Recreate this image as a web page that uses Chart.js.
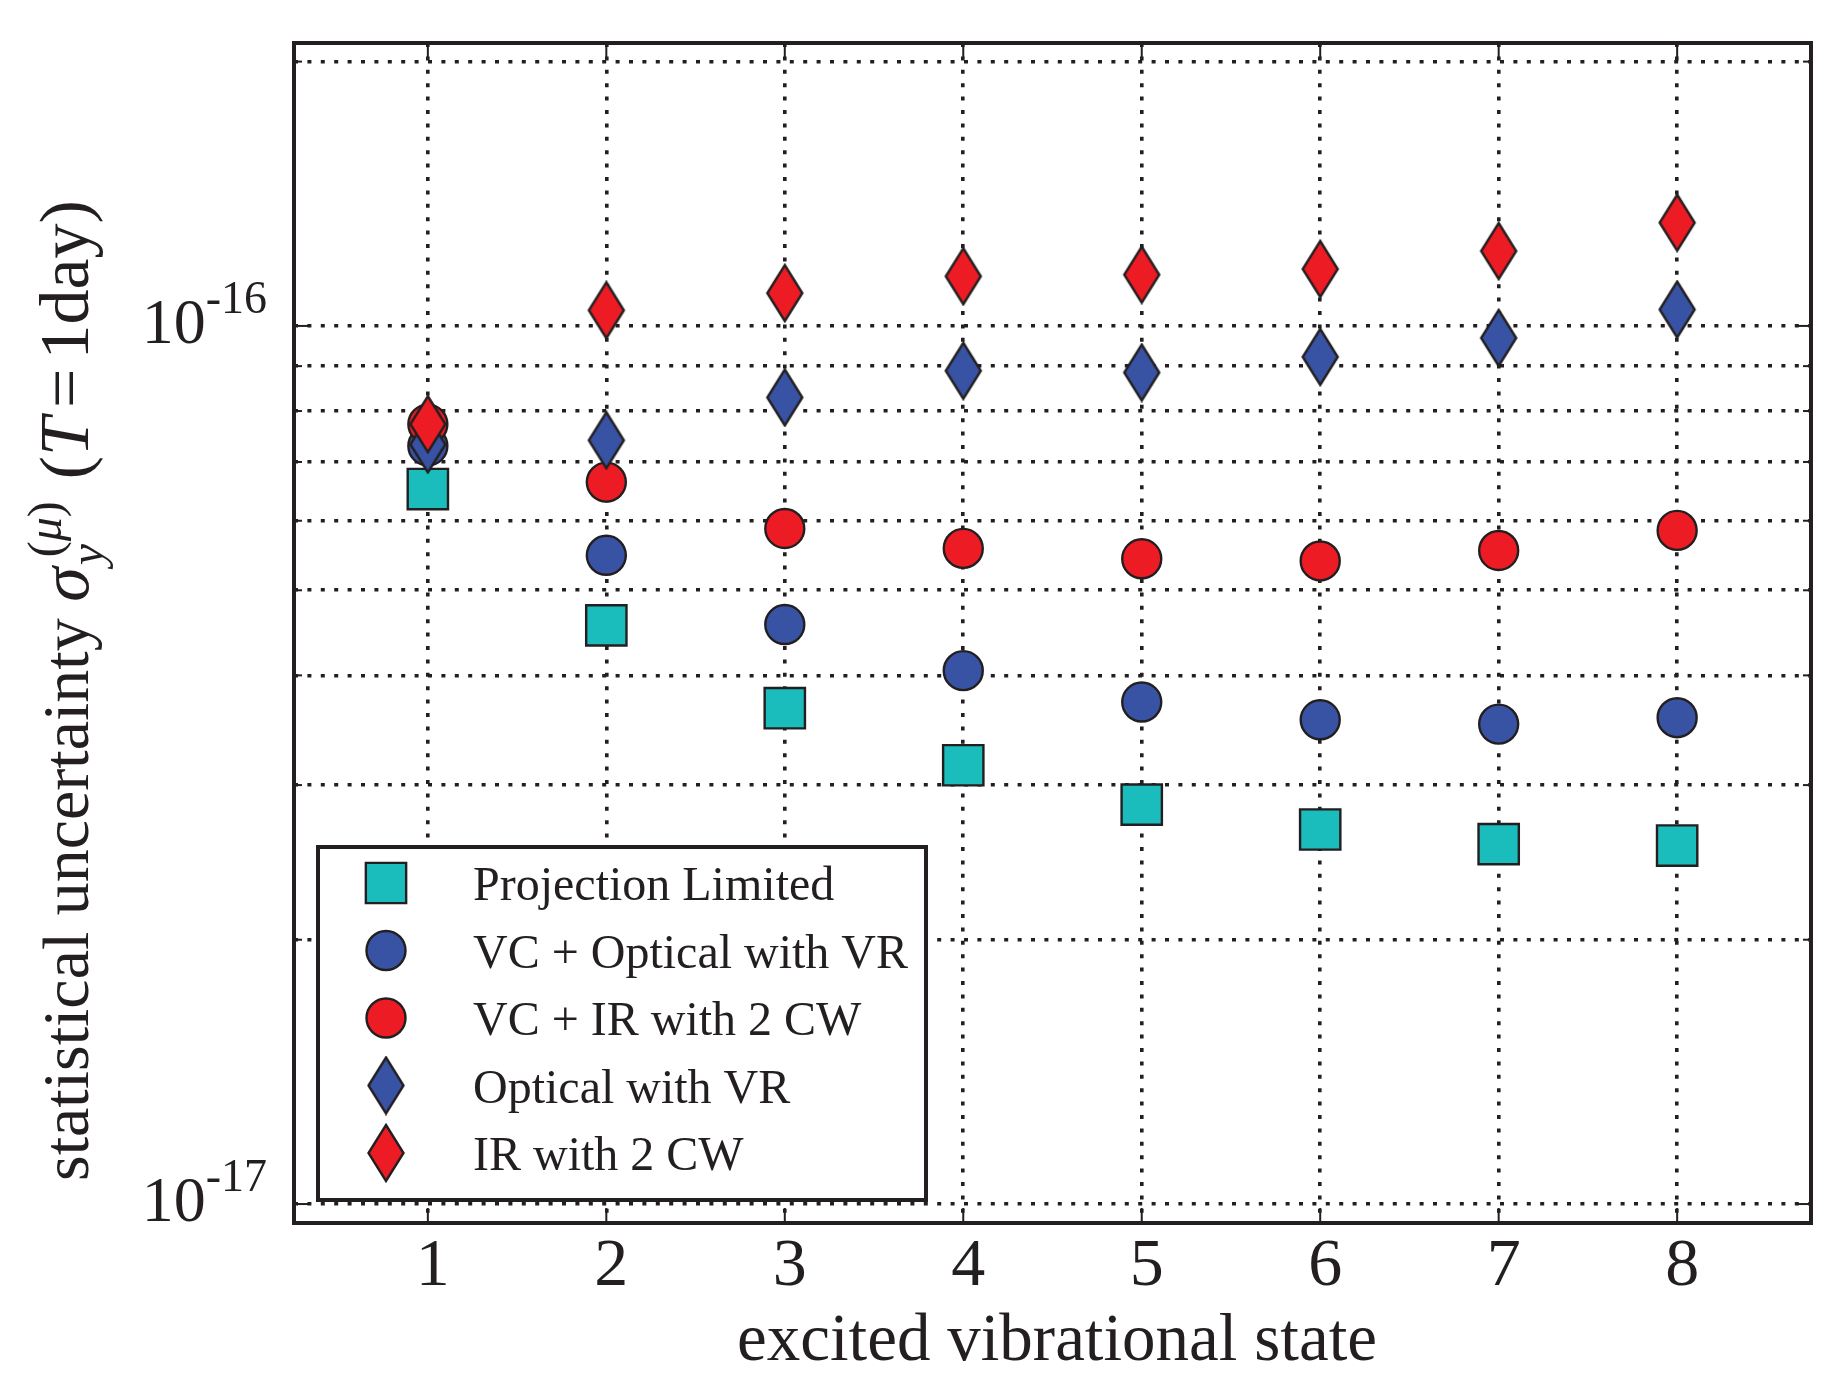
<!DOCTYPE html>
<html>
<head>
<meta charset="utf-8">
<script src="https://cdn.jsdelivr.net/npm/chart.js@4.4.1/dist/chart.umd.min.js"></script>
<style>
html, body { margin: 0; padding: 0; background: #fff; }
canvas { display: block; }
</style>
</head>
<body>
<canvas id="chart" width="1846" height="1388"></canvas>
<script>
// data
const states = [1, 2, 3, 4, 5, 6, 7, 8];
const projectionLimited = [6.52e-17, 4.56e-17, 3.67e-17, 3.16e-17, 2.85e-17, 2.67e-17, 2.57e-17, 2.56e-17];
const vcOpticalVR = [7.30e-17, 5.48e-17, 4.57e-17, 4.05e-17, 3.73e-17, 3.56e-17, 3.52e-17, 3.58e-17];
const vcIR2CW = [7.73e-17, 6.64e-17, 5.88e-17, 5.58e-17, 5.43e-17, 5.40e-17, 5.55e-17, 5.85e-17];
const opticalVR = [7.33e-17, 7.41e-17, 8.29e-17, 8.89e-17, 8.85e-17, 9.22e-17, 9.69e-17, 1.044e-16];
const ir2CW = [7.73e-17, 1.042e-16, 1.090e-16, 1.139e-16, 1.144e-16, 1.161e-16, 1.217e-16, 1.311e-16];

const seriesLabels = ['Projection Limited', 'VC + Optical with VR', 'VC + IR with 2 CW', 'Optical with VR', 'IR with 2 CW'];
const xTickLabels = ['1', '2', '3', '4', '5', '6', '7', '8'];
const yGridValues = [1e-17, 2e-17, 3e-17, 4e-17, 5e-17, 6e-17, 7e-17, 8e-17, 9e-17, 1e-16, 2e-16];
const yMajorValues = [1e-17, 1e-16];
const yTickExponents = ['-17', '-16'];
const xAxisTitle = 'excited vibrational state';

const ink = '#231f20';
const teal = '#1bbcbc';
const blue = '#3953a4';
const red = '#ed1c24';
const SERIF = '"Liberation Serif", "Times New Roman", serif';

// matplotlib style thin diamond marker
function thinDiamond(fill) {
    const c = document.createElement('canvas');
    c.width = 40; c.height = 60;
    const g = c.getContext('2d');
    g.beginPath();
    g.moveTo(20, 2); g.lineTo(37.5, 30); g.lineTo(20, 58); g.lineTo(2.5, 30);
    g.closePath();
    g.fillStyle = fill; g.fill();
    g.lineWidth = 2.4; g.strokeStyle = ink; g.stroke();
    return c;
}

const toPoints = (vals) => states.map((s, i) => ({ x: s, y: vals[i] }));

function series(label, vals, color, style, radius, order) {
    return {
        label: label,
        data: toPoints(vals),
        backgroundColor: color,
        borderColor: ink,
        borderWidth: 2.4,
        pointStyle: style,
        pointRadius: radius,
        pointHoverRadius: radius,
        showLine: false,
        order: order
    };
}

const datasets = [
    series(seriesLabels[0], projectionLimited, teal, 'rect', 28.5, 5),
    series(seriesLabels[1], vcOpticalVR, blue, 'circle', 19.5, 4),
    series(seriesLabels[2], vcIR2CW, red, 'circle', 19.5, 3),
    series(seriesLabels[3], opticalVR, blue, thinDiamond(blue), 18, 2),
    series(seriesLabels[4], ir2CW, red, thinDiamond(red), 18, 1)
];

// draw a sequence of text runs along +x, returns advance
function drawSeq(ctx, seq, x0) {
    let cx = x0;
    seq.forEach(r => {
        if (r.gap) { cx += r.gap; return; }
        if (r.stack) {
            let w = 0;
            r.stack.forEach(s => { w = Math.max(w, drawSeq(ctx, s, cx) - cx); });
            cx += w;
            return;
        }
        ctx.font = r.font;
        ctx.fillText(r.text, cx, r.dy || 0);
        cx += ctx.measureText(r.text).width;
    });
    return cx;
}

const R66 = '66px ' + SERIF;
const R70 = '70px ' + SERIF, I70 = 'italic 70px ' + SERIF;
const R48 = '48px ' + SERIF, I48 = 'italic 48px ' + SERIF;
const yAxisTitle = [
    { text: 'statistical uncertainty ', font: R66 },
    { text: 'σ', font: I70 },
    { stack: [
        [{ gap: 2 }, { text: 'y', font: I48, dy: 15 }],
        [{ gap: 10 }, { text: '(', font: R48, dy: -27 }, { text: 'μ', font: I48, dy: -27 }, { text: ')', font: R48, dy: -27 }]
    ] },
    { gap: 22 },
    { text: '(', font: R70 },
    { text: 'T', font: I70 },
    { gap: 9 },
    { text: '=', font: R70 },
    { gap: 9 },
    { text: '1day)', font: R70 }
];

const decorations = {
    id: 'decorations',
    beforeDraw(chart) {
        const ctx = chart.ctx;
        ctx.save();
        ctx.fillStyle = '#fff';
        ctx.fillRect(0, 0, chart.width, chart.height);
        ctx.restore();
    },
    afterDraw(chart) {
        const { ctx, chartArea: a, scales: { x, y } } = chart;
        ctx.save();
        ctx.strokeStyle = ink;
        ctx.fillStyle = ink;
        const line = (x1, y1, x2, y2) => { ctx.beginPath(); ctx.moveTo(x1, y1); ctx.lineTo(x2, y2); ctx.stroke(); };

        // inward ticks
        ctx.lineWidth = 2;
        states.forEach(v => {
            const px = x.getPixelForValue(v);
            line(px, a.bottom, px, a.bottom - 15);
            line(px, a.top, px, a.top + 15);
        });
        yGridValues.forEach(v => {
            const py = y.getPixelForValue(v);
            const len = yMajorValues.includes(v) ? 15 : 8;
            line(a.left, py, a.left + len, py);
            line(a.right, py, a.right - len, py);
        });

        // frame
        ctx.lineWidth = 4;
        ctx.strokeRect(a.left, a.top, a.right - a.left, a.bottom - a.top);

        // x tick labels
        ctx.textAlign = 'center';
        ctx.textBaseline = 'alphabetic';
        ctx.font = '68px ' + SERIF;
        states.forEach((v, i) => ctx.fillText(xTickLabels[i], x.getPixelForValue(v) + 5, a.bottom + 62));

        // x title
        ctx.font = '67px ' + SERIF;
        ctx.fillText(xAxisTitle, 1057, 1360);

        // y tick labels 10^n
        ctx.textAlign = 'left';
        yMajorValues.forEach((v, i) => {
            const py = y.getPixelForValue(v);
            ctx.font = '46px ' + SERIF;
            const ws = ctx.measureText(yTickExponents[i]).width;
            ctx.font = '64px ' + SERIF;
            const wb = ctx.measureText('10').width;
            const right = a.left - 27;
            ctx.fillText('10', right - ws - wb, py + 17);
            ctx.font = '46px ' + SERIF;
            ctx.fillText(yTickExponents[i], right - ws, py - 13);
        });

        // y title (rotated)
        ctx.save();
        ctx.translate(88, 1181);
        ctx.rotate(-Math.PI / 2);
        drawSeq(ctx, yAxisTitle, 0);
        ctx.restore();

        // legend box
        const box = { l: 318, t: 847, r: 926, b: 1200 };
        ctx.fillStyle = '#fff';
        ctx.fillRect(box.l, box.t, box.r - box.l, box.b - box.t);
        ctx.lineWidth = 4;
        ctx.strokeRect(box.l, box.t, box.r - box.l, box.b - box.t);
        const rowY = 883, rowStep = 67.5;
        chart.data.datasets.forEach((ds, i) => {
            const cy = rowY + i * rowStep;
            ctx.fillStyle = ds.backgroundColor;
            ctx.strokeStyle = ink;
            ctx.lineWidth = ds.borderWidth;
            Chart.helpers.drawPoint(ctx, { pointStyle: ds.pointStyle, radius: ds.pointRadius, borderWidth: ds.borderWidth, rotation: 0 }, 386, cy);
            ctx.fillStyle = ink;
            ctx.font = '48px ' + SERIF;
            ctx.textAlign = 'left';
            ctx.fillText(ds.label, 473, cy + 17);
        });
        ctx.restore();
    }
};

const dotted = { display: false, dash: [4, 9.4] };

new Chart(document.getElementById('chart'), {
    type: 'scatter',
    data: { datasets: datasets },
    options: {
        responsive: false,
        devicePixelRatio: 1,
        animation: false,
        layout: { padding: { left: 294, right: 35, top: 43, bottom: 165 } },
        plugins: { legend: { display: false }, tooltip: { enabled: false } },
        scales: {
            x: {
                type: 'linear',
                min: 0.25,
                max: 8.75,
                z: 1,
                afterBuildTicks: (axis) => { axis.ticks = states.map(v => ({ value: v })); },
                afterFit: (axis) => { axis.height = 0; },
                ticks: { display: false },
                grid: { color: ink, lineWidth: 3.6, drawTicks: false },
                border: dotted
            },
            y: {
                type: 'logarithmic',
                min: 9.515e-18,
                max: 2.10e-16,
                z: 1,
                afterBuildTicks: (axis) => { axis.ticks = yGridValues.map(v => ({ value: v })); },
                afterFit: (axis) => { axis.width = 0; },
                ticks: { display: false },
                grid: { color: ink, lineWidth: 3.6, drawTicks: false },
                border: dotted
            }
        }
    },
    plugins: [decorations]
});
</script>
</body>
</html>
